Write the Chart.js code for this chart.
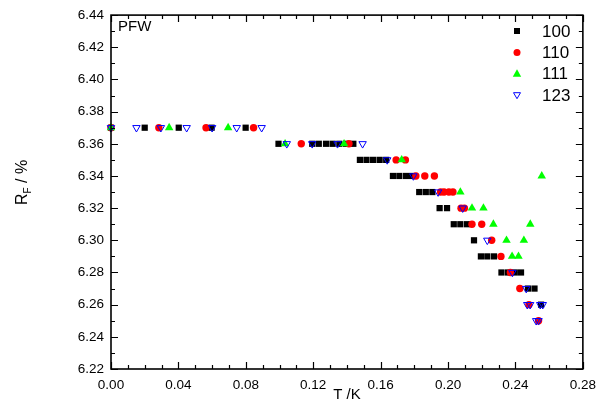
<!DOCTYPE html>
<html>
<head>
<meta charset="utf-8">
<script src="https://cdn.jsdelivr.net/npm/chart.js@4/dist/chart.umd.min.js"></script>
<style>
  html, body { margin: 0; padding: 0; background: #fff; }
  #c { display: block; }
</style>
</head>
<body>
<canvas id="c" width="604" height="412"></canvas>
<script>
// ---- Data (T in K, R_F in %) ----
const seriesLabels = ['100', '110', '111', '123'];

const t100 = [0, 0.020, 0.0402, 0.0597, 0.0799,
  0.0994, 0.1194, 0.1233, 0.1276, 0.1315, 0.1355, 0.1395, 0.1438,
  0.1477, 0.1516, 0.1555, 0.1594, 0.1633,
  0.1673, 0.1711, 0.1751, 0.1786,
  0.1829, 0.1868, 0.1907,
  0.1950, 0.1994,
  0.2034, 0.2073, 0.2113,
  0.2154,
  0.2195, 0.2233, 0.2273,
  0.2317, 0.2356, 0.2396, 0.2433,
  0.2474, 0.2513,
  0.2552];
const r100 = [6.37, 6.37, 6.37, 6.37, 6.37,
  6.36, 6.36, 6.36, 6.36, 6.36, 6.36, 6.36, 6.36,
  6.35, 6.35, 6.35, 6.35, 6.35,
  6.34, 6.34, 6.34, 6.34,
  6.33, 6.33, 6.33,
  6.32, 6.32,
  6.31, 6.31, 6.31,
  6.30,
  6.29, 6.29, 6.29,
  6.28, 6.28, 6.28, 6.28,
  6.27, 6.27,
  6.26];

const t110 = [0, 0.0284, 0.0564, 0.0846,
  0.1129, 0.1412,
  0.1692, 0.1747,
  0.1809, 0.1862, 0.1919,
  0.1956, 0.1976, 0.2005, 0.2029,
  0.2077, 0.2097,
  0.2142, 0.2200,
  0.2259, 0.2314, 0.2370, 0.2426, 0.2480, 0.2537];
const r110 = [6.37, 6.37, 6.37, 6.37,
  6.36, 6.36,
  6.35, 6.35,
  6.34, 6.34, 6.34,
  6.33, 6.33, 6.33, 6.33,
  6.32, 6.32,
  6.31, 6.31,
  6.30, 6.29, 6.28, 6.27, 6.26, 6.25];

const t111 = [0, 0.0345, 0.0695, 0.1033, 0.1383, 0.1725,
  0.2073, 0.2142, 0.2210, 0.2269, 0.2488, 0.2347, 0.2450, 0.2380, 0.2418, 0.2556];
const r111 = [6.37, 6.37, 6.37, 6.36, 6.36, 6.35,
  6.33, 6.32, 6.32, 6.31, 6.31, 6.30, 6.30, 6.29, 6.29, 6.34];

const t123 = [0, 0.0151, 0.0296, 0.0449, 0.0600, 0.0746, 0.0894,
  0.1043, 0.1194, 0.1344, 0.1493,
  0.1639, 0.1794, 0.1941, 0.2087, 0.2233, 0.2382, 0.2464,
  0.2470, 0.2487, 0.2547, 0.2562,
  0.2523, 0.2537];
const r123 = [6.37, 6.37, 6.37, 6.37, 6.37, 6.37, 6.37,
  6.36, 6.36, 6.36, 6.36,
  6.35, 6.34, 6.33, 6.32, 6.30, 6.28, 6.27,
  6.26, 6.26, 6.26, 6.26,
  6.25, 6.25];

const xMin = 0, xMax = 0.28, xStep = 0.04, xMinor = 0.01;
const yMin = 6.22, yMax = 6.44, yStep = 0.02, yMinor = 0.01;
const xTitle = 'T /K';
const yTitleMain = 'R', yTitleSub = 'F', yTitleRest = ' / %';
const panelLabel = 'PFW';

function pts(t, r) { return t.map((v, i) => ({ x: v, y: r[i] })); }

const FONT = '"Liberation Sans", Arial, sans-serif';
const GREEN = '#00ff00';

function drawMarker(ctx, style, x, y) {
  ctx.save();
  if (style === 'sq') {
    ctx.fillStyle = '#000';
    ctx.fillRect(x - 3, y - 3, 6, 6);
  } else if (style === 'circ') {
    ctx.fillStyle = '#ff0000';
    ctx.beginPath(); ctx.arc(x, y, 3.5, 0, Math.PI * 2); ctx.fill();
  } else if (style === 'tri') {
    ctx.fillStyle = GREEN;
    ctx.beginPath(); ctx.moveTo(x, y - 4.5); ctx.lineTo(x + 4.2, y + 3); ctx.lineTo(x - 4.2, y + 3); ctx.closePath(); ctx.fill();
  } else {
    ctx.strokeStyle = '#0000ff'; ctx.lineWidth = 1;
    ctx.beginPath(); ctx.moveTo(x, y + 3.5); ctx.lineTo(x + 3.5, y - 2.5); ctx.lineTo(x - 3.5, y - 2.5); ctx.closePath(); ctx.stroke();
  }
  ctx.restore();
}

const framePlugin = {
  id: 'frame',
  afterDraw(chart) {
    const ctx = chart.ctx;
    const a = chart.chartArea;
    const xs = chart.scales.x, ys = chart.scales.y;
    ctx.save();
    ctx.strokeStyle = '#000';
    // frame
    ctx.lineWidth = 1.6;
    ctx.strokeRect(a.left, a.top, a.right - a.left, a.bottom - a.top);
    // ticks
    ctx.lineWidth = 1.2;
    ctx.beginPath();
    const nx = Math.round((xMax - xMin) / xMinor);
    for (let i = 0; i <= nx; i++) {
      const v = xMin + i * xMinor;
      const px = Math.round(xs.getPixelForValue(v)) + 0.5;
      const major = i % Math.round(xStep / xMinor) === 0;
      const L = major ? 7 : 4;
      ctx.moveTo(px, a.bottom); ctx.lineTo(px, a.bottom - L);
      ctx.moveTo(px, a.top); ctx.lineTo(px, a.top + L);
    }
    const ny = Math.round((yMax - yMin) / yMinor);
    for (let i = 0; i <= ny; i++) {
      const v = yMin + i * yMinor;
      const py = Math.round(ys.getPixelForValue(v)) + 0.5;
      const major = i % Math.round(yStep / yMinor) === 0;
      const L = major ? 7 : 4;
      ctx.moveTo(a.left, py); ctx.lineTo(a.left + L, py);
      ctx.moveTo(a.right, py); ctx.lineTo(a.right - L, py);
    }
    ctx.stroke();

    // panel label
    ctx.fillStyle = '#000';
    ctx.font = '15px ' + FONT;
    ctx.textBaseline = 'middle';
    ctx.textAlign = 'left';
    ctx.fillText(panelLabel, a.left + 7, a.top + 12);

    // x title
    ctx.font = '15px ' + FONT;
    ctx.textAlign = 'center';
    ctx.textBaseline = 'middle';
    ctx.fillText(xTitle, (a.left + a.right) / 2, 395);

    // y title (rotated, with subscript)
    ctx.save();
    ctx.translate(27, 205);
    ctx.rotate(-Math.PI / 2);
    ctx.textAlign = 'left';
    ctx.textBaseline = 'alphabetic';
    ctx.font = '16px ' + FONT;
    ctx.fillText(yTitleMain, 0, 0);
    let w = ctx.measureText(yTitleMain).width;
    ctx.font = '10px ' + FONT;
    ctx.fillText(yTitleSub, w, 4);
    w += ctx.measureText(yTitleSub).width;
    ctx.font = '16px ' + FONT;
    ctx.fillText(yTitleRest, w, 0);
    ctx.restore();

    // legend
    const styles = ['sq', 'circ', 'tri', 'dtri'];
    ctx.font = '17px ' + FONT;
    ctx.textAlign = 'left';
    ctx.textBaseline = 'middle';
    chart.data.datasets.forEach((ds, i) => {
      const y = 31 + i * 21.4;
      drawMarker(ctx, styles[i], 517, y);
      ctx.fillStyle = '#000';
      ctx.fillText(ds.label, 542, y + 1);
    });
    ctx.restore();
  }
};

new Chart(document.getElementById('c'), {
  type: 'scatter',
  data: {
    datasets: [
      { label: seriesLabels[0], data: pts(t100, r100), pointStyle: 'rect', pointRadius: 4.4,
        backgroundColor: '#000', borderColor: '#000', borderWidth: 0, order: 4, clip: false },
      { label: seriesLabels[1], data: pts(t110, r110), pointStyle: 'circle', pointRadius: 3.7,
        backgroundColor: '#ff0000', borderColor: '#ff0000', borderWidth: 0, order: 3, clip: false },
      { label: seriesLabels[2], data: pts(t111, r111), pointStyle: 'triangle', pointRadius: 4.9,
        backgroundColor: GREEN, borderColor: GREEN, borderWidth: 0, order: 2, clip: false },
      { label: seriesLabels[3], data: pts(t123, r123), pointStyle: 'triangle', rotation: 180, pointRadius: 4.3,
        backgroundColor: 'rgba(0,0,0,0)', borderColor: '#0000ff', borderWidth: 1, order: 1, clip: false }
    ]
  },
  options: {
    responsive: false,
    animation: false,
    events: [],
    layout: { padding: { top: 15, right: 15, left: 0, bottom: 0 } },
    plugins: { legend: { display: false }, tooltip: { enabled: false } },
    scales: {
      x: {
        type: 'linear', min: xMin, max: xMax,
        grid: { display: false, drawTicks: false },
        border: { display: false },
        ticks: { stepSize: xStep, padding: 8, color: '#000', font: { family: FONT, size: 13.5 },
                 callback: v => Number(v).toFixed(2), maxRotation: 0, autoSkip: false },
        afterFit: s => { s.height = 43; }
      },
      y: {
        type: 'linear', min: yMin, max: yMax,
        grid: { display: false, drawTicks: false },
        border: { display: false },
        ticks: { stepSize: yStep, padding: 7, color: '#000', font: { family: FONT, size: 13.5 },
                 callback: v => Number(v).toFixed(2), autoSkip: false },
        afterFit: s => { s.width = 111; }
      }
    }
  },
  plugins: [framePlugin]
});
</script>
</body>
</html>
